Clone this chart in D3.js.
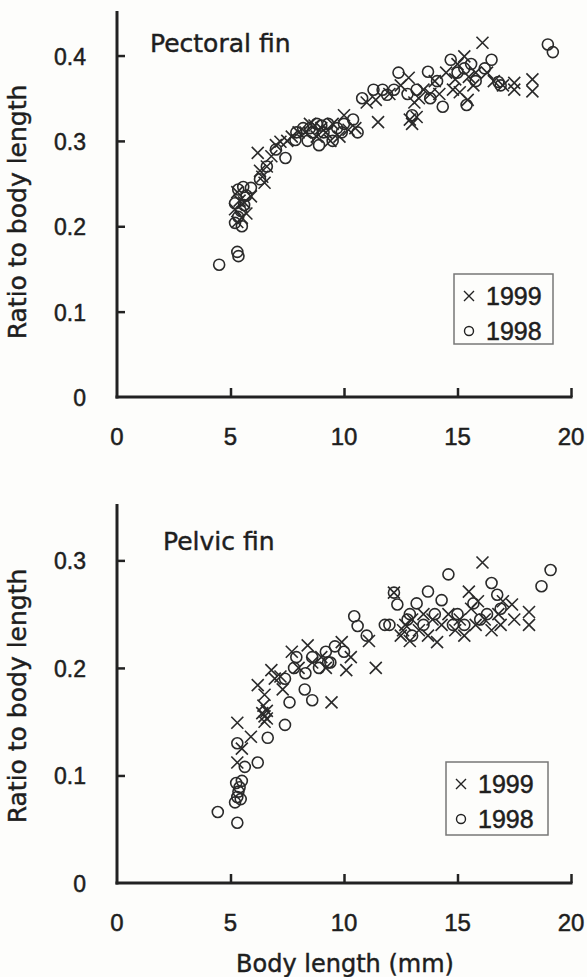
<!DOCTYPE html>
<html>
<head>
<meta charset="utf-8">
<script src="https://cdn.jsdelivr.net/npm/d3@7"></script>
<style>
  body { margin: 0; background: #fdfdfb; }
  svg { display: block; }
  .lbl { font-family: "DejaVu Sans", sans-serif; fill: #1e1e1e; stroke: #1e1e1e; stroke-width: 0.45; }
  .num { font-family: "Liberation Sans", Arial, sans-serif; fill: #1e1e1e; stroke: #1e1e1e; stroke-width: 0.5; }
</style>
</head>
<body>
<svg id="chart" width="587" height="977"></svg>
<script>
// body length (mm), ratio to body length
const pectoral1999 = [
  [5.2,0.22],[5.3,0.24],[5.4,0.23],[5.5,0.21],[5.7,0.215],[5.9,0.235],[6.2,0.286],[6.4,0.258],
  [6.5,0.251],[6.6,0.27],[6.8,0.282],[7.0,0.295],[7.2,0.299],[7.5,0.3],[7.7,0.305],[8.0,0.31],
  [8.3,0.31],[8.5,0.32],[8.8,0.305],[9.0,0.315],[9.2,0.31],[9.5,0.32],[9.8,0.305],[10.0,0.33],
  [10.2,0.313],[10.5,0.315],[11.0,0.345],[11.4,0.348],[11.5,0.322],[12.0,0.355],[12.5,0.365],
  [12.85,0.374],[12.9,0.325],[13.0,0.32],[13.2,0.328],[13.3,0.35],[13.5,0.36],[13.8,0.355],
  [14.0,0.37],[14.2,0.355],[14.5,0.38],[14.8,0.36],[15.0,0.39],[15.3,0.399],[15.1,0.357],
  [15.45,0.348],[15.5,0.375],[15.7,0.365],[16.1,0.415],[16.3,0.38],[16.6,0.37],[17.0,0.365],
  [17.5,0.368],[17.5,0.36],[18.3,0.372],[18.3,0.358],
  [5.3,0.205],[5.6,0.228],[6.3,0.265],[8.7,0.318],[9.4,0.3],[13.1,0.345],[14.9,0.372],[15.8,0.38]
];
const pectoral1998 = [
  [4.5,0.155],[5.3,0.17],[5.35,0.165],[5.2,0.204],[5.34,0.211],[5.2,0.227],[5.34,0.243],
  [5.56,0.246],[5.5,0.2],[5.6,0.225],[5.9,0.245],[6.3,0.255],[6.6,0.27],[7.0,0.29],[7.42,0.28],
  [7.86,0.301],[7.9,0.31],[8.2,0.315],[8.4,0.3],[8.6,0.31],[8.8,0.32],[8.9,0.295],[9.1,0.31],
  [9.3,0.32],[9.5,0.3],[9.7,0.315],[10.0,0.32],[10.4,0.325],[10.6,0.31],[10.8,0.35],[11.3,0.36],
  [11.7,0.36],[11.9,0.354],[12.2,0.36],[12.4,0.38],[13.0,0.33],[13.2,0.36],[13.7,0.381],
  [13.8,0.35],[14.35,0.34],[14.7,0.395],[15.0,0.38],[15.3,0.385],[15.4,0.342],[15.8,0.37],
  [16.2,0.385],[16.5,0.395],[16.8,0.369],[16.9,0.365],[18.98,0.413],[19.2,0.404],
  [5.45,0.218],[5.7,0.236],[8.5,0.315],[9.0,0.318],[9.9,0.31],[12.8,0.355],[14.1,0.37],[15.6,0.39]
];
const pelvic1999 = [
  [5.3,0.112],[5.3,0.149],[5.9,0.136],[5.5,0.125],[6.4,0.158],[6.5,0.155],[6.5,0.15],[6.6,0.153],
  [6.6,0.16],[6.2,0.184],[6.5,0.175],[6.8,0.198],[6.95,0.19],[7.3,0.18],[7.7,0.215],[8.0,0.2],
  [8.4,0.221],[8.6,0.205],[9.0,0.21],[9.2,0.2],[9.45,0.168],[9.9,0.224],[10.1,0.198],[10.3,0.21],
  [11.1,0.225],[11.4,0.2],[12.2,0.27],[12.5,0.23],[12.7,0.24],[12.9,0.225],[13.0,0.245],
  [13.3,0.235],[13.5,0.25],[13.7,0.23],[14.1,0.224],[14.3,0.24],[14.6,0.25],[14.9,0.235],
  [15.1,0.245],[15.3,0.23],[15.5,0.271],[15.6,0.255],[15.8,0.24],[16.1,0.298],[16.2,0.245],
  [16.5,0.235],[16.8,0.25],[17.0,0.262],[17.4,0.259],[17.5,0.245],[18.15,0.252],[18.15,0.24],
  [6.45,0.165],[7.2,0.192],[12.6,0.235],[13.9,0.245],[15.9,0.262],[16.9,0.24]
];
const pelvic1998 = [
  [4.44,0.066],[5.3,0.056],[5.2,0.075],[5.3,0.08],[5.25,0.093],[5.4,0.089],[5.5,0.095],
  [5.63,0.108],[5.3,0.13],[6.2,0.112],[6.64,0.135],[7.4,0.147],[7.4,0.19],[7.6,0.168],[7.8,0.2],
  [8.27,0.18],[8.6,0.17],[8.3,0.195],[8.6,0.21],[8.9,0.2],[9.2,0.215],[9.4,0.205],[9.6,0.22],
  [10.0,0.215],[10.45,0.248],[10.6,0.239],[11.0,0.23],[11.8,0.24],[12.0,0.24],[12.2,0.27],
  [12.35,0.259],[12.8,0.245],[13.0,0.23],[13.2,0.26],[13.5,0.24],[13.7,0.271],[14.0,0.25],
  [14.3,0.263],[14.6,0.287],[15.0,0.25],[15.3,0.24],[15.7,0.26],[16.0,0.245],[16.5,0.279],
  [16.75,0.268],[16.9,0.255],[18.7,0.276],[19.1,0.291],
  [5.35,0.085],[5.45,0.078],[7.9,0.21],[9.3,0.205],[12.9,0.25],[14.8,0.24],[16.3,0.25]
];

const xTicks = [0, 5, 10, 15, 20];
const pectoralTicks = [0, 0.1, 0.2, 0.3, 0.4];
const pelvicTicks = [0, 0.1, 0.2, 0.3];
const legendYears = ['1999', '1998'];

const svg = d3.select('#chart');
const ink = '#222';

function drawPanel(opt) {
  const x = d3.scaleLinear().domain([0, 20]).range([117, 571]);
  const y = d3.scaleLinear().domain([0, opt.yMax]).range([opt.bottom, opt.top]);
  const g = svg.append('g');

  // axes (ticks point inward)
  const xAxis = d3.axisTop(x).tickValues(xTicks.slice(1)).tickSize(9).tickFormat('');
  g.append('g').attr('transform', `translate(0,${opt.bottom})`).call(xAxis);
  const yAxis = d3.axisRight(y).tickValues(opt.yTicks.slice(1)).tickSize(8).tickFormat('');
  g.append('g').attr('transform', `translate(${x(0)},0)`).call(yAxis);
  g.selectAll('.domain').remove();
  g.selectAll('.tick line').attr('stroke', ink).attr('stroke-width', 2.5);

  g.append('line').attr('x1', x(0)).attr('x2', x(0))
    .attr('y1', opt.top - 1).attr('y2', opt.bottom + 1.5)
    .attr('stroke', ink).attr('stroke-width', 3);
  g.append('line').attr('x1', x(0) - 1.5).attr('x2', x(20) + 1.5)
    .attr('y1', opt.bottom).attr('y2', opt.bottom)
    .attr('stroke', ink).attr('stroke-width', 3);

  g.selectAll('.xl').data(xTicks).enter().append('text')
    .attr('class', 'num').attr('x', d => x(d)).attr('y', opt.bottom + 48)
    .attr('text-anchor', 'middle').attr('font-size', 24).text(d => d);
  g.selectAll('.yl').data(opt.yTicks).enter().append('text')
    .attr('class', 'num').attr('x', 86).attr('y', d => y(d) + 9)
    .attr('text-anchor', 'end').attr('font-size', 23)
    .text(d => d === 0 ? '0' : d3.format('.1f')(d));

  g.append('text').attr('class', 'lbl')
    .attr('transform', `translate(26,${opt.titleY}) rotate(-90)`)
    .attr('text-anchor', 'middle').attr('font-size', 25).text('Ratio to body length');

  g.append('text').attr('class', 'lbl')
    .attr('x', opt.nameX).attr('y', opt.nameY).attr('font-size', 25).text(opt.name);

  // 1998 circles
  g.selectAll('.o').data(opt.d1998).enter().append('circle')
    .attr('cx', d => x(d[0])).attr('cy', d => y(d[1])).attr('r', 5.5)
    .attr('fill', 'none').attr('stroke', '#2a2a2a').attr('stroke-width', 1.6);
  // 1999 crosses
  const s = 6;
  g.selectAll('.x').data(opt.d1999).enter().append('path')
    .attr('d', d => {
      const cx = x(d[0]), cy = y(d[1]);
      return `M${cx - s},${cy - s}L${cx + s},${cy + s}M${cx - s},${cy + s}L${cx + s},${cy - s}`;
    })
    .attr('fill', 'none').attr('stroke', '#2a2a2a').attr('stroke-width', 1.6);

  // legend
  const L = opt.legend;
  g.append('rect').attr('x', L.x).attr('y', L.y).attr('width', L.w).attr('height', L.h)
    .attr('fill', 'none').attr('stroke', '#777').attr('stroke-width', 1.5);
  legendYears.forEach((yr, i) => {
    const cy = L.y + 22 + i * 35;
    const cx = L.x + 15;
    if (yr === '1999') {
      g.append('path').attr('d', `M${cx - 5},${cy - 5}L${cx + 5},${cy + 5}M${cx - 5},${cy + 5}L${cx + 5},${cy - 5}`)
        .attr('stroke', ink).attr('stroke-width', 1.4);
    } else {
      g.append('circle').attr('cx', cx).attr('cy', cy).attr('r', 4.5)
        .attr('fill', 'none').attr('stroke', ink).attr('stroke-width', 1.4);
    }
    g.append('text').attr('class', 'num').attr('x', L.x + 32).attr('y', cy + 9)
      .attr('font-size', 25).text(yr);
  });
}

drawPanel({
  name: 'Pectoral fin', nameX: 150, nameY: 52,
  top: 12, bottom: 397, yMax: 0.451, yTicks: pectoralTicks, titleY: 212,
  d1999: pectoral1999, d1998: pectoral1998,
  legend: {x: 454, y: 274, w: 99, h: 70}
});
drawPanel({
  name: 'Pelvic fin', nameX: 163, nameY: 550,
  top: 505, bottom: 883, yMax: 0.3515, yTicks: pelvicTicks, titleY: 696,
  d1999: pelvic1999, d1998: pelvic1998,
  legend: {x: 446, y: 762, w: 102, h: 73}
});

svg.append('text').attr('class', 'lbl').attr('x', 345).attr('y', 972)
  .attr('text-anchor', 'middle').attr('font-size', 24).text('Body length (mm)');
</script>
</body>
</html>
